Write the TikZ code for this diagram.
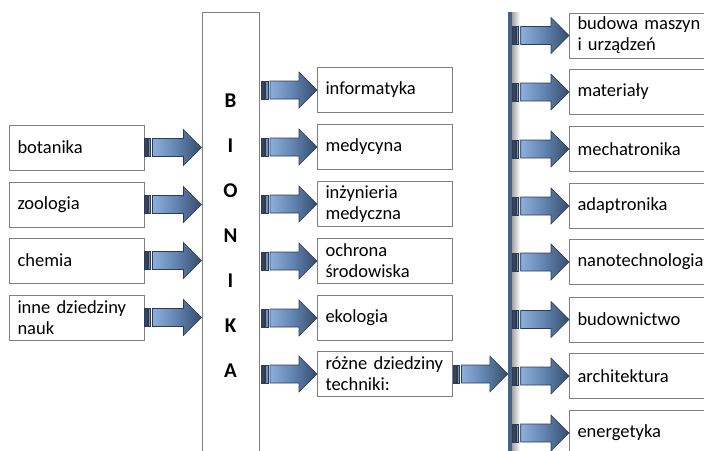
\documentclass[tikz,border=0pt]{standalone}
\usepackage{fontspec}
\setmainfont{Carlito}
\usetikzlibrary{calc}
\definecolor{boxline}{RGB}{128,128,128}
\definecolor{arrlight}{RGB}{140,175,220}
\definecolor{arrmid}{RGB}{95,130,175}
\definecolor{arrdark}{RGB}{55,75,105}
\definecolor{arrline}{RGB}{45,60,85}
\definecolor{bardark}{RGB}{55,68,90}
\definecolor{barlight}{RGB}{110,145,190}
\definecolor{vbar}{RGB}{72,98,132}
\newcommand\sarrow[2]{%
 \coordinate (sa) at #1;
 \coordinate (sb) at #2;
 \filldraw[draw=arrline, fill=bardark, line width=0.6pt] let \p1=(sa) in ({\x1},{\y1-9pt}) rectangle ({\x1+3pt},{\y1+9pt});
 \filldraw[draw=arrline, fill=barlight, line width=0.6pt] let \p1=(sa) in ({\x1+4pt},{\y1-9pt}) rectangle ({\x1+6.5pt},{\y1+9pt});
 \shadedraw[draw=arrline, line width=0.6pt, left color=arrlight, right color=arrdark, middle color=arrmid] let \p1=(sa), \p2=(sb) in
   ({\x1+8.5pt},{\y1+9pt}) -- ({\x2-18pt},{\y1+9pt}) -- ({\x2-18pt},{\y1+18pt}) -- (\x2,\y1)
   -- ({\x2-18pt},{\y1-18pt}) -- ({\x2-18pt},{\y1-9pt}) -- ({\x1+8.5pt},{\y1-9pt}) -- cycle;
}
\tikzset{
 box/.style={draw=boxline, line width=1pt, fill=white, inner xsep=8pt, inner ysep=0pt,
   minimum height=45pt, text width=119pt, align=left, anchor=west,
   font=\fontsize{18.5}{21}\selectfont},
 rbox/.style={box, text width=140pt},
 bionbox/.style={draw=boxline, line width=1pt, minimum width=57pt, minimum height=446pt,
   anchor=north, inner sep=0pt, align=center, font=\bfseries\fontsize{21}{45}\selectfont},
 vbarstyle/.style={fill=vbar, minimum width=4pt, minimum height=445pt, anchor=north, inner sep=0pt}
}
\begin{document}
\begin{tikzpicture}[x=1pt,y=-1pt]
\useasboundingbox (0,0) rectangle (704,450);
\clip (0,0) rectangle (704,450);
% left column
\node[box] (botanika) at (9,147.5) {botanika};
\node[box] (zoologia) at (9,204.5) {zoologia};
\node[box] (chemia) at (9,260.5) {chemia};
\node[box] (inne) at (9,317.5) {inne dziedziny\\nauk};
% BIONIKA
\node[bionbox] (bionika) at (230.5,12) {B\\I\\O\\N\\I\\K\\A};
% middle column
\node[box] (informatyka) at (317,90) {informatyka};
\node[box] (medycyna) at (317,147) {medycyna};
\node[box] (inzynieria) at (317,204) {inżynieria\\medyczna};
\node[box] (ochrona) at (317,261) {ochrona\\środowiska};
\node[box] (ekologia) at (317,318) {ekologia};
\node[box] (rozne) at (317,374) {różne dziedziny\\techniki:};
% vertical bar
\node[vbarstyle] (bar) at (510,12) {};
\shade[left color=black!35, right color=white] (bar.north east) rectangle ($(bar.south east)+(8pt,0pt)$);
% right column
\node[rbox] (budowa) at (569,35.5) {budowa maszyn\\i urządzeń};
\node[rbox] (materialy) at (569,92) {materiały};
\node[rbox] (mechatronika) at (569,149) {mechatronika};
\node[rbox] (adaptronika) at (569,206) {adaptronika};
\node[rbox] (nano) at (569,262) {nanotechnologia};
\node[rbox] (budownictwo) at (569,319.5) {budownictwo};
\node[rbox] (architektura) at (569,376) {architektura};
\node[rbox] (energetyka) at (569,433) {energetyka};
% arrows left -> BIONIKA
\foreach \nm in {botanika,zoologia,chemia,inne}{
  \sarrow{($(\nm.east)+(-1pt,0pt)$)}{(bionika.west |- \nm.east)}
}
% arrows BIONIKA -> middle
\foreach \nm in {informatyka,medycyna,inzynieria,ochrona,ekologia,rozne}{
  \sarrow{($(bionika.east |- \nm.west)+(2pt,0pt)$)}{(\nm.west)}
}
% arrow rozne -> bar
\sarrow{(rozne.east)}{(bar.west |- rozne.east)}
% arrows bar -> right
\foreach \nm in {budowa,materialy,mechatronika,adaptronika,nano,budownictwo,architektura,energetyka}{
  \sarrow{(bar.east |- \nm.west)}{(\nm.west)}
}
\end{tikzpicture}
\end{document}
